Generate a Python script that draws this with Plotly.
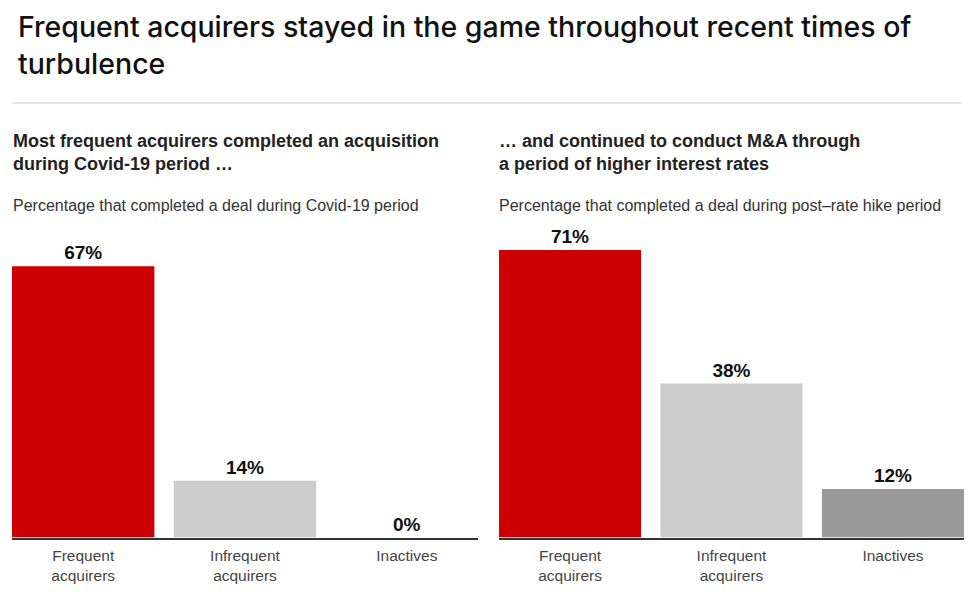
"""
Frequent acquirers during Covid-19 and the post-rate hike period
"""

import plotly.graph_objects as go

categories = ["Frequent<br>acquirers", "Infrequent<br>acquirers", "Inactives"]
covid_pct = [67, 14, 0]
rate_hike_pct = [71, 38, 12]
bar_colors = ["#CC0000", "#CCCCCC", "#999999"]

W, H = 975, 598
OFF = 8  # page body margin
FONT = "Liberation Sans, Arial, sans-serif"


def px_x(x):
    return (x - OFF) / W


def px_y(y):
    return 1 - (y - OFF) / H


fig = go.Figure()

for values, xa, ya in [(covid_pct, "x", "y"), (rate_hike_pct, "x2", "y2")]:
    fig.add_trace(go.Bar(
        x=categories, y=values,
        marker=dict(color=bar_colors, line=dict(width=0)),
        texttemplate="<b>%{y}%</b>", textposition="outside",
        textfont=dict(family=FONT, size=19, color="#111111"),
        cliponaxis=False, showlegend=False, hoverinfo="skip",
        xaxis=xa, yaxis=ya,
    ))

ytop = 230
yrange = [0, (537.5 - ytop) / 4.05]
ydom = [px_y(537.5), px_y(ytop)]

axis_x = dict(showline=True, linecolor="#333333", linewidth=2, ticks="",
              range=[-0.44, 2.44], ticklabelstandoff=3,
              tickfont=dict(family=FONT, size=15.5, color="#444444"),
              showgrid=False, zeroline=False, fixedrange=True)
axis_y = dict(visible=False, range=yrange, domain=ydom, showgrid=False,
              zeroline=False, fixedrange=True)

fig.update_layout(
    width=W, height=H,
    margin=dict(l=0, r=0, t=0, b=0),
    paper_bgcolor="white", plot_bgcolor="white",
    bargap=0.12,
    xaxis=dict(domain=[px_x(12), px_x(478)], **axis_x),
    xaxis2=dict(domain=[px_x(499), px_x(964)], anchor="y2", **axis_x),
    yaxis=dict(anchor="x", **axis_y),
    yaxis2=dict(anchor="x2", **axis_y),
)

annotations = [
    dict(text="Frequent acquirers stayed in the game throughout recent times of<br>turbulence",
         x=px_x(16), y=px_y(7), size=28.5, color="#111111", family="Inter, sans-serif", weight=500),
    dict(text="<b>Most frequent acquirers completed an acquisition<br>during Covid-19 period …</b>",
         x=px_x(11), y=px_y(129), size=18, color="#222222", family=FONT, weight=400),
    dict(text="<b>… and continued to conduct M&A through<br>a period of higher interest rates</b>",
         x=px_x(497), y=px_y(129), size=18, color="#222222", family=FONT, weight=400),
    dict(text="Percentage that completed a deal during Covid-19 period",
         x=px_x(11), y=px_y(195), size=16, color="#333333", family=FONT, weight=400),
    dict(text="Percentage that completed a deal during post–rate hike period",
         x=px_x(497), y=px_y(195), size=16, color="#333333", family=FONT, weight=400),
]
for a in annotations:
    fig.add_annotation(text=a["text"], x=a["x"], y=a["y"], xref="paper", yref="paper",
                       xanchor="left", yanchor="top", align="left", showarrow=False,
                       font=dict(family=a["family"], size=a["size"], color=a["color"],
                                 weight=a["weight"]))

# separator under the headline
fig.add_shape(type="line", xref="paper", yref="paper",
              x0=px_x(12), x1=px_x(962), y0=px_y(103), y1=px_y(103),
              line=dict(color="#DDDDDD", width=1.5))

fig.write_html("out.html")
